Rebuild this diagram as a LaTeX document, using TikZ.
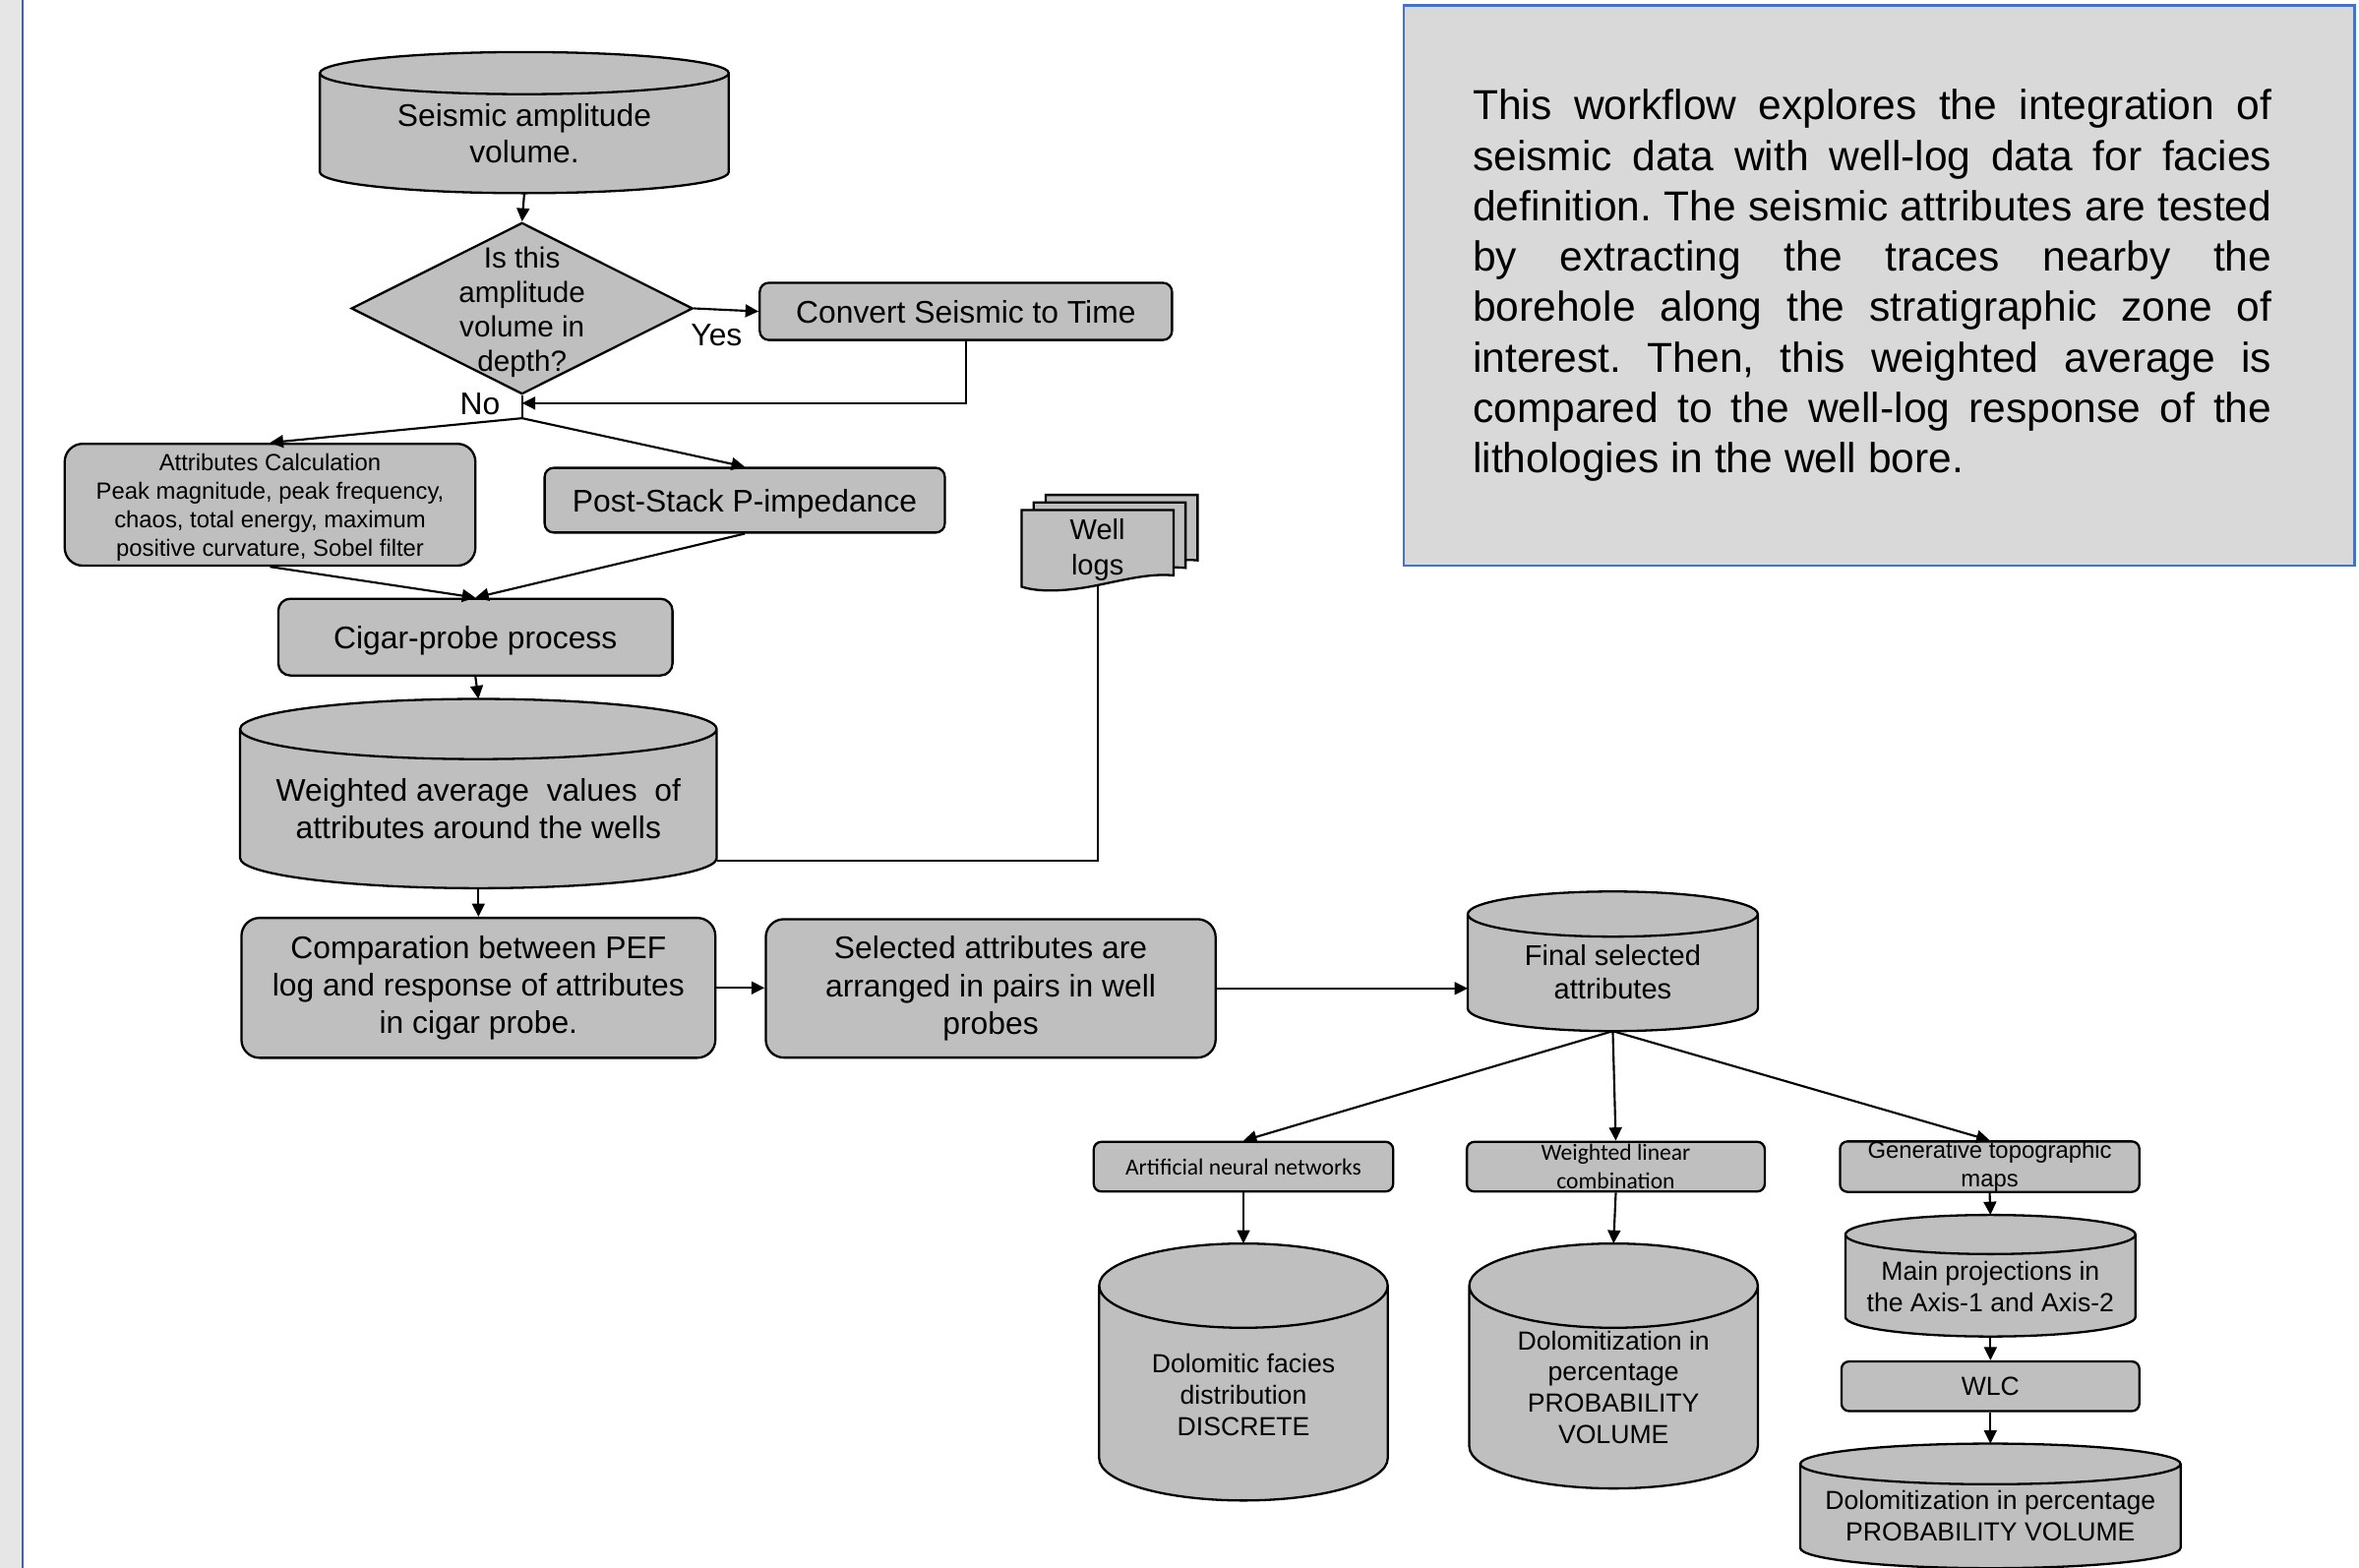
\documentclass[tikz,border=0pt]{standalone}
\usepackage{fontspec}
\setmainfont{Liberation Sans}
\newfontfamily\calibri{Carlito}
\usetikzlibrary{arrows.meta,positioning,shapes.geometric,calc,backgrounds}
\definecolor{BoxGray}{HTML}{BFBFBF}
\definecolor{NoteGray}{HTML}{D9D9D9}
\definecolor{NoteBlue}{HTML}{4472C4}
\definecolor{StripGray}{HTML}{E7E6E6}
\definecolor{StripBlue}{HTML}{41649F}
\tikzset{
  box/.style={rounded corners=3pt, draw=black, fill=BoxGray, line width=0.75pt, inner sep=0pt, align=center, font=\fontsize{10.4}{12.5}\selectfont},
  smallbox/.style={box, rounded corners=2.5pt, font=\fontsize{7.8}{9.5}\selectfont},
  decbox/.style={diamond, draw=black, fill=BoxGray, line width=0.75pt, inner sep=0pt},
  drumbox/.style={inner sep=0pt},
  drumtext/.style={align=center, inner sep=0pt, font=\fontsize{10.4}{12}\selectfont},
  drumline/.style={draw=black, fill=BoxGray, line width=0.75pt},
  doc/.style={draw=black, fill=BoxGray, line width=0.75pt},
  notebox/.style={draw=NoteBlue, fill=NoteGray, line width=0.8pt, inner sep=0pt},
  notetext/.style={inner sep=0pt, align=justify, text width=265.5pt, font=\fontsize{13.9}{16.75}\selectfont},
  lbl/.style={inner sep=0pt, font=\fontsize{10.4}{12}\selectfont},
  arr/.style={-{Triangle[length=4.4pt,width=4.2pt]}, line width=0.7pt, draw=black},
  wire/.style={line width=0.7pt, draw=black}
}
% cylinder drawn round a named node; #2 is the radius of the end ellipse
\newcommand{\drum}[2]{%
  \path[drumline] let \p1=(#1.north west), \p2=(#1.south east), \n1={(\x2-\x1)/2} in
    (\x1,\y1-#2) -- (\x1,\y2+#2)
    arc[start angle=180, end angle=360, x radius=\n1*1pt, y radius=#2]
    -- (\x2,\y1-#2)
    arc[start angle=0, end angle=180, x radius=\n1*1pt, y radius=#2] -- cycle
    (\x1,\y1-#2) arc[start angle=180, end angle=360, x radius=\n1*1pt, y radius=#2];
}

\begin{document}
\begin{tikzpicture}[x=0.5pt, y=-0.5pt]
\useasboundingbox (0,0) rectangle (1568,1042);
% page margin
\fill[StripGray] (0,0) rectangle (15,1042);
\draw[StripBlue, line width=0.9pt] (15,0) -- (15,1042);

% note
\node[notebox, minimum width=316pt, minimum height=186.25pt] (note) at (1249,189.75) {};
\node[notetext] (notebody) at ([xshift=-2.25pt]note.center)
  {\frenchspacing\hyphenpenalty=10000 \tolerance=10000
   \spaceskip=.28em plus 1em minus .06em
   This workflow explores the integration of\linebreak
   seismic data with well-log data for facies\linebreak
   definition. The seismic attributes are tested\linebreak
   by extracting the traces nearby the\linebreak
   borehole along the stratigraphic zone of\linebreak
   interest. Then, this weighted average is\linebreak
   compared to the well-log response of the\linebreak
   lithologies in the well bore.};

% seismic input
\node[drumbox, minimum width=135.5pt, minimum height=46.5pt] (seis) at (348.5,81.5) {};
\node[drumtext] (seistext) at ([yshift=-3.5pt]seis.center) {Seismic amplitude\\volume.};
\node[decbox, minimum width=113.5pt, minimum height=57pt] (dec) at (347,205) {};
\node[drumtext, font=\fontsize{9.7}{11.5}\selectfont] (dectext) at ([yshift=-1.2pt]dec.center) {Is this\\amplitude\\volume in\\depth?};
\node[box, text depth=0pt, minimum width=137pt, minimum height=19pt] (conv) at (642,207) {Convert Seismic to Time};
\coordinate (jn) at (347,278);
\coordinate (nohit) at (347,268);

% attributes
\node[box, rounded corners=6pt, minimum width=136.5pt, minimum height=40.5pt, font=\fontsize{7.8}{9.4}\selectfont] (attr) at (179.5,335.5)
  {\rule{0pt}{7.5pt}Attributes Calculation\\Peak magnitude, peak frequency,\\chaos, total energy, maximum\\positive curvature, Sobel filter};
\node[box, text depth=0pt, minimum width=133pt, minimum height=21.5pt] (pst) at (495,332.5) {Post-Stack P-impedance};
\node[inner sep=0pt, minimum width=50.5pt, minimum height=23.5pt, align=center, font=\fontsize{9.5}{11.5}\selectfont] (wlog) at (729.5,365.5) {Well\\logs};
\node[box, text depth=0pt, rounded corners=4pt, minimum width=131pt, minimum height=25.5pt] (cig) at (316,423.5) {Cigar-probe process};
\node[drumbox, minimum width=158pt, minimum height=62.5pt] (wavg) at (318,527.5) {};
\node[drumtext, font=\fontsize{10.4}{12.5}\selectfont] (wavgtext) at ([yshift=-5pt]wavg.center) {Weighted average\ \ values\ \ of\\attributes around the wells};
\node[box, rounded corners=6pt, minimum width=157.5pt, minimum height=46.5pt, below=9.5pt of wavg] (cmp)
  {Comparation between PEF\\log and response of attributes\\in cigar probe.};
\node[box, rounded corners=6pt, minimum width=149.5pt, minimum height=46pt] (sel) at (658.5,657)
  {Selected attributes are\\arranged in pairs in well\\probes};
\node[drumbox, minimum width=96pt, minimum height=46pt] (fin) at (1072,639) {};
\node[drumtext, font=\fontsize{9.5}{11}\selectfont] (fintext) at ([yshift=-3.5pt]fin.center) {Final selected\\attributes};

% methods
\node[smallbox, minimum width=99.5pt, minimum height=16.5pt, font=\calibri\fontsize{7.7}{9.5}\selectfont] (ann) at (826.5,775.5) {Artificial neural networks};
\node[smallbox, minimum width=99pt, minimum height=16.5pt, font=\calibri\fontsize{7.7}{9.5}\selectfont] (wlc) at (1074,775.5) {Weighted linear\\combination};
\node[smallbox, minimum width=99.5pt, minimum height=16.5pt] (gtm) at (1322.5,775.5) {Generative topographic\\maps};
\node[drumbox, minimum width=95.5pt, minimum height=85pt] (dfd) at (826.5,912) {};
\node[drumtext, font=\fontsize{8.7}{10.4}\selectfont] (dfdtext) at ([yshift=-7.5pt]dfd.center) {Dolomitic facies\\distribution\\DISCRETE};
\node[drumbox, minimum width=95.5pt, minimum height=81pt] (dpv) at (1072.5,908) {};
\node[drumtext, font=\fontsize{8.7}{10.35}\selectfont] (dpvtext) at ([yshift=-7pt]dpv.center) {Dolomitization in\\percentage\\PROBABILITY\\VOLUME};
\node[drumbox, minimum width=96pt, minimum height=40pt] (mpj) at (1323,848) {};
\node[drumtext, font=\fontsize{8.7}{10.5}\selectfont] (mpjtext) at ([yshift=-3.75pt]mpj.center) {Main projections in\\the Axis-1 and Axis-2};
\node[smallbox, text depth=0pt, minimum width=99pt, minimum height=16.5pt, font=\fontsize{8.7}{10.5}\selectfont] (wlcb) at (1323,921.5) {WLC};
\node[drumbox, minimum width=126pt, minimum height=41pt] (dpvb) at (1323,1001) {};
\node[drumtext, font=\fontsize{8.7}{10.5}\selectfont] (dpvbtext) at ([yshift=-3.25pt]dpvb.center) {Dolomitization in percentage\\PROBABILITY VOLUME};

% connectors
\draw[arr] (seis.south) -- (dec.north);
\draw[arr] (dec.east) -- node[lbl, pos=0.35, below=4.5pt] {Yes} (conv.west);
\draw[arr] (conv.south) |- (nohit);
\draw[wire] (dec.south) -- node[lbl, pos=0.4, left=7pt] {No} (jn);
\draw[arr] (jn) -- (attr.north);
\draw[arr] (jn) -- (pst.north);
\draw[arr] (attr.south) -- (cig.north);
\draw[arr] (pst.south) -- (cig.north);
\draw[arr] (cig.south) -- (wavg.north);
\draw[wire] (wlog.south) |- ([yshift=9pt]wavg.south east);
\draw[arr] (wavg.south) -- (cmp.north);
\draw[arr] (cmp.east) -- (cmp.east -| sel.west);
\draw[arr] (sel.east) -- (sel.east -| fin.west);
\foreach \t in {ann,wlc,gtm}
  \draw[arr] (fin.south) -- (\t.north);
\draw[arr] (ann.south) -- (dfd.north);
\draw[arr] (wlc.south) -- (dpv.north);
\draw[arr] (gtm.south) -- (mpj.north);
\draw[arr] (mpj.south) -- (wlcb.north);
\draw[arr] (wlcb.south) -- (dpvb.north);

\begin{pgfonlayer}{background}
\drum{seis}{7pt}
\drum{wavg}{10pt}
\drum{fin}{7.5pt}
\drum{dfd}{14pt}
\drum{dpv}{14pt}
\drum{mpj}{6.5pt}
\drum{dpvb}{6.75pt}
% stack of well-log sheets
\foreach \dx/\dy in {16/-10,8/-5,0/0}
  \draw[doc, shift={(\dx,\dy)}] (679,339) -- (780,339) -- (780,382.5)
    .. controls (765,381) and (749,385) .. (729.5,389)
    .. controls (710,393) and (691,394) .. (679,390) -- cycle;
\end{pgfonlayer}
\end{tikzpicture}
\end{document}
